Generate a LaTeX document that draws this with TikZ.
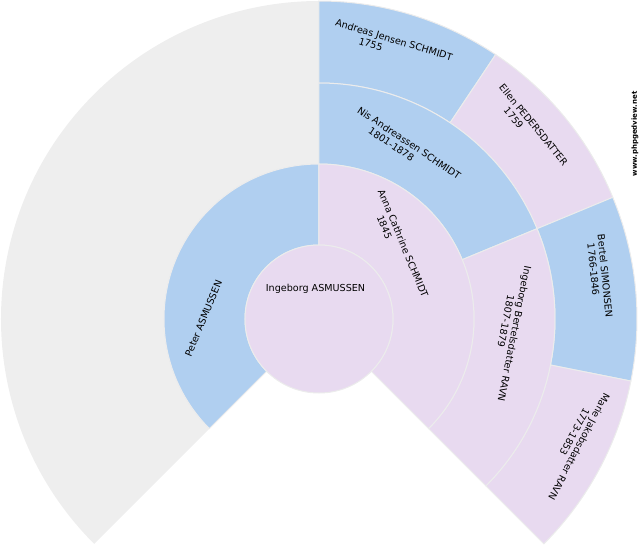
\documentclass[tikz,border=0pt]{standalone}
\usepackage{fontspec}
\setmainfont{DejaVu Sans}
\definecolor{maleblue}{RGB}{176,207,240}
\definecolor{femalepink}{RGB}{232,218,240}
\definecolor{emptygrey}{RGB}{238,238,238}
\definecolor{seamgrey}{RGB}{236,236,236}
% #1 style, #2 start angle, #3 end angle, #4 inner radius, #5 outer radius
\newcommand{\fanpart}[5]{%
  \draw[#1] (#2:#4pt) arc[start angle=#2, end angle=#3, radius=#4pt]
    -- (#3:#5pt) arc[start angle=#3, end angle=#2, radius=#5pt] -- cycle;}
\tikzset{
  male/.style={fill=maleblue, draw=seamgrey, line width=1pt},
  female/.style={fill=femalepink, draw=seamgrey, line width=1pt},
  noparents/.style={fill=emptygrey, draw=none},
  namelabel/.style={inner sep=0pt, align=center, font=\fontsize{9.6}{11}\selectfont},
}
\begin{document}
\begin{tikzpicture}
      \useasboundingbox (-319pt,-231pt) rectangle (321pt,319pt);
      % unknown parents of the father
      \fanpart{noparents}{90}{225}{155}{318}
      % third ring
      \fanpart{male}{90}{56.25}{236}{318}
      \fanpart{female}{56.25}{22.5}{236}{318}
      \fanpart{male}{22.5}{-11.25}{236}{318}
      \fanpart{female}{-11.25}{-45}{236}{318}
      % second ring
      \fanpart{male}{90}{22.5}{155}{236}
      \fanpart{female}{22.5}{-45}{155}{236}
      % first ring
      \fanpart{male}{225}{90}{74}{155}
      \fanpart{female}{90}{-45}{74}{155}
      \draw[female] (0,0) circle[radius=74pt];
      \node[namelabel] (ingeborg) at (-3.5pt,30pt) {Ingeborg ASMUSSEN};
      \node[namelabel, rotate=67.5] (peter) at (179.75:115.5pt) {Peter ASMUSSEN};
      \node[namelabel, rotate=-67.5] (anna) at (42.9:108pt) {Anna Cathrine SCHMIDT\\1845\hspace*{44pt}};
      \node[namelabel, rotate=-33.75] (nis) at (63.1:192.4pt) {Nis Andreassen SCHMIDT\\1801-1878\hspace*{28pt}};
      \node[namelabel, rotate=-101.25] (ingeborgravn) at (-4.2:190.8pt) {Ingeborg Bertelsdatter RAVN\\1807-1879\hspace*{22pt}};
      \node[namelabel, rotate=-16.875] (andreas) at (75:283.7pt) {Andreas Jensen SCHMIDT\\1755\hspace*{42pt}};
      \node[namelabel, rotate=-50.625] (ellen) at (42.2:284pt) {Ellen PEDERSDATTER\\1759\hspace*{36pt}};
      \node[namelabel, rotate=-84.375] (bertel) at (8.6:284pt) {Bertel SIMONSEN\\1766-1846\hspace*{15pt}};
      \node[namelabel, rotate=-118.125] (marie) at (-26.1:284.4pt) {Marie Jakobsdatter RAVN\\1773-1853\hspace*{22pt}};
      \node[inner sep=0pt, rotate=90, font=\fontsize{7}{8}\selectfont\bfseries] (site) at (316pt,185pt) {www.phpgedview.net};
    \end{tikzpicture}
\end{document}
